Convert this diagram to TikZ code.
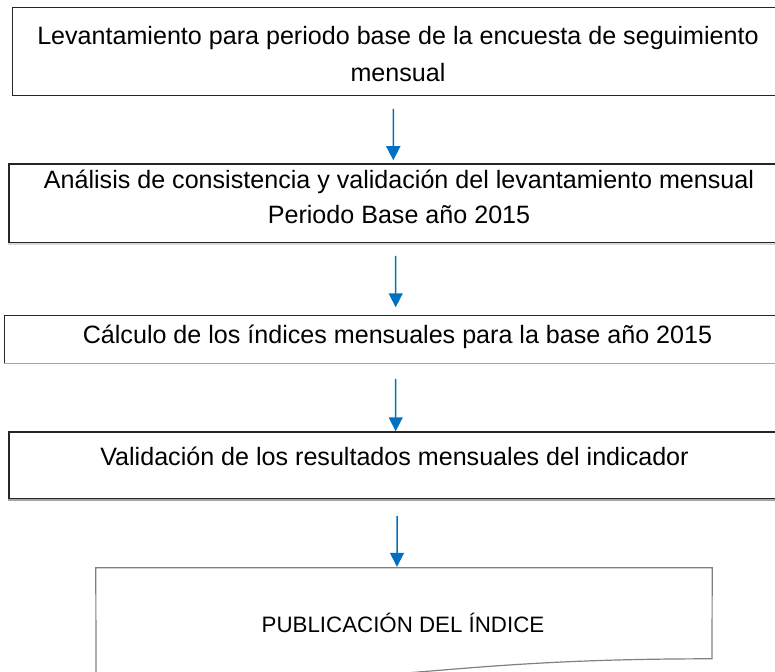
\documentclass[tikz,border=0pt]{standalone}
\usepackage{fontspec}
\setmainfont{Liberation Sans}
\usepackage{tikz}
\usetikzlibrary{arrows.meta, calc}
\definecolor{flechaazul}{RGB}{0,112,192}
\tikzset{
	caja/.style={draw=black!85, line width=1.5bp, inner sep=0pt}
}
\tikzset{
	texto/.style={font=\fontsize{25.1bp}{30bp}\selectfont, inner sep=0pt, anchor=base}
}
\tikzset{
	flecha/.style={flechaazul, line width=1.5bp, -{Triangle[length=14bp, width=14bp]}}
}

\begin{document}
\begin{tikzpicture}[x=1bp, y=-1bp]
      \useasboundingbox (0,0) rectangle (775,672);

      % cajas del proceso (salen por la derecha)
      \node[caja, minimum width=770.6bp, minimum height=88bp] (b1) at (397.9,51.5) {};
      \node[caja, minimum width=780bp, minimum height=79bp] (b2) at (399,203.5) {};
      \node[caja, minimum width=785.3bp, minimum height=47bp] (b3) at (397.4,339) {};
      \node[caja, minimum width=771bp, minimum height=67bp] (b4) at (394.5,465.5) {};
      \node[minimum width=616bp, minimum height=112bp, inner sep=0pt] (b5) at (404,624) {};

      % bordes inferiores en gris
      \draw[white, line width=2.2bp] (b2.south west) -- (b2.south east);
      \draw[gray!30, line width=1.5bp] (b2.south west) -- (b2.south east);
      \draw[white, line width=2.2bp] ([xshift=1bp]b3.south west) -- (b3.south east);
      \draw[gray!70, line width=1.5bp] (b3.south west) -- (b3.south east);
      \draw[white, line width=2.2bp] ([xshift=1bp]b4.south west) -- (b4.south east);
      \draw[gray!70, line width=1.5bp] (b4.south west) -- (b4.south east);

      % documento final con borde ondulado
      \draw[gray, line width=1.2bp] (b5.north west) -- (b5.north east) -- (712,658.8)
        .. controls (404,658.8) and (404,692.4) .. (96,672.6) -- cycle;

      % textos
      \node[texto] (t1a) at (398,45) {Levantamiento para periodo base de la encuesta de seguimiento};
      \node[texto] (t1b) at (398,82) {mensual};
      \node[texto] (t2a) at (399,188) {Análisis de consistencia y validación del levantamiento mensual};
      \node[texto] (t2b) at (399,223) {Periodo Base año 2015};
      \node[texto] (t3) at (397.5,343) {Cálculo de los índices mensuales para la base año 2015};
      \node[texto] (t4) at (394.5,465) {Validación de los resultados mensuales del indicador};
      \node[texto, font=\fontsize{22.3bp}{26bp}\selectfont] (t5) at (403,632) {PUBLICACIÓN DEL ÍNDICE};

      % flechas
      \draw[flecha] ([xshift=-4.6bp,yshift=-12.5bp]b1.south) -- ([xshift=-5.7bp,yshift=3bp]b2.north);
      \draw[flecha] ([xshift=-3.3bp,yshift=-12bp]b2.south) -- ([xshift=-1.7bp,yshift=7.5bp]b3.north);
      \draw[flecha] ([xshift=-1.7bp,yshift=-15.5bp]b3.south) -- ([xshift=1.2bp]b4.north);
      \draw[flecha] ([xshift=2.5bp,yshift=-16bp]b4.south) -- ([xshift=-7bp,yshift=1bp]b5.north);
\end{tikzpicture}
\end{document}
